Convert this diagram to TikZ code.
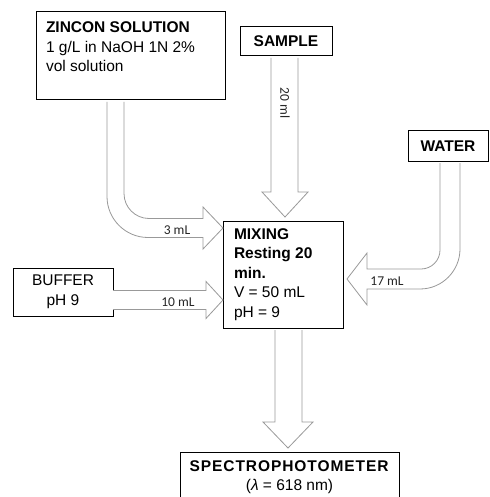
\documentclass[tikz,border=0pt]{standalone}
\usepackage{fontspec}
\setmainfont{Liberation Sans}
\newfontfamily\volfont{Carlito}
\usetikzlibrary{calc}

\begin{document}
\begin{tikzpicture}[x=1pt, y=-1pt,
  box/.style={draw=black, line width=1pt, fill=white, inner sep=0pt, outer sep=0pt, font=\fontsize{15.5}{19.5}\selectfont},
  flow/.style={draw=black!40, fill=white, line width=0.8pt, line join=miter},
  vol/.style={font=\volfont\fontsize{13.5}{15}\selectfont, text=black!85, inner sep=0pt}]
\useasboundingbox[fill=white] (0,0) rectangle (489,497);

\node[box, anchor=north west, inner xsep=10pt] (zincon) at (36,12) {\parbox[t][88pt][t]{169pt}{\rule{0pt}{21pt}\textbf{ZINCON SOLUTION}\\1 g/L in NaOH 1N 2\%\\vol solution}};
\node[box, anchor=north west, minimum width=92, minimum height=29] (sample) at (240,27) {\textbf{SAMPLE}};
\node[box, anchor=north west, minimum width=80, minimum height=30] (water) at (408,131) {\textbf{WATER}};
\node[box, anchor=north west, minimum width=100, minimum height=48, align=center] (buffer) at (13,268) {BUFFER\\pH 9};
\node[box, anchor=north west, inner xsep=11pt] (mixing) at (223,221) {\parbox[t][107pt][t]{98pt}{\rule{0pt}{18.3pt}\textbf{MIXING}\\\textbf{Resting 20}\\\textbf{min.}\\V = 50 mL\\pH = 9}};
\node[box, anchor=north west] (spectro) at (180,452) {\parbox[t][53pt][t]{219pt}{\centering\rule{0pt}{19pt}{\addfontfeature{LetterSpace=6}\textbf{SPECTROPHOTOMETER}}\\(\textit{λ} = 618 nm)}};

\coordinate (zinconin) at ($(mixing.north west)+(0,7)$);
\coordinate (samplein) at ($(mixing.north)+(2,-4)$);
\coordinate (waterin) at ($(mixing.east)+(4,4.5)$);
\coordinate (bufferin) at ($(mixing.south west)+(0,-28)$);
\coordinate (spectroin) at ($(spectro.north)+(-1.5,-4)$);

\path[flow, shift={(zinconin)}] (-116,-126) -- (-116,-31.5) .. controls (-116,-8.9) and (-97.6,9.5) .. (-75,9.5) -- (-20,9.5) -- (-20,21) -- (0,0) -- (-20,-21) -- (-20,-9.5) -- (-74,-9.5) .. controls (-87.8,-9.5) and (-99,-20.7) .. (-99,-34.5) -- (-99,-126);
\path[flow, shift={(samplein)}] (-14,-159) -- (-14,-25) -- (-23,-25) -- (0,0) -- (23,-25) -- (13,-25) -- (13,-159);
\path[flow, shift={(waterin)}] (113,-116) -- (113,-30) .. controls (113,-8.5) and (95.5,10) .. (73,10) -- (20,10) -- (20,26) -- (0,0) -- (20,-26) -- (20,-10) -- (74,-10) .. controls (84.5,-10) and (93,-18.5) .. (93,-29) -- (93,-116);
\path[flow, shift={(bufferin)}] (-110,-9.5) -- (-17,-9.5) -- (-17,-18.5) -- (0,0) -- (-17,18.5) -- (-17,9.5) -- (-110,9.5);
\path[flow, shift={(spectroin)}] (-13,-118) -- (-13,-26) -- (-25,-26) -- (0,0) -- (25,-26) -- (14,-26) -- (14,-118);

\node[vol] (zinconvol) at ($(zinconin)+(-46,2)$) {3 mL};
\node[vol, rotate=-90] (samplevol) at ($(samplein)+(0,-114)$) {20 ml};
\node[vol] (watervol) at ($(waterin)+(40,2)$) {17 mL};
\node[vol] (buffervol) at ($(bufferin)+(-45,2)$) {10 mL};
\end{tikzpicture}
\end{document}
